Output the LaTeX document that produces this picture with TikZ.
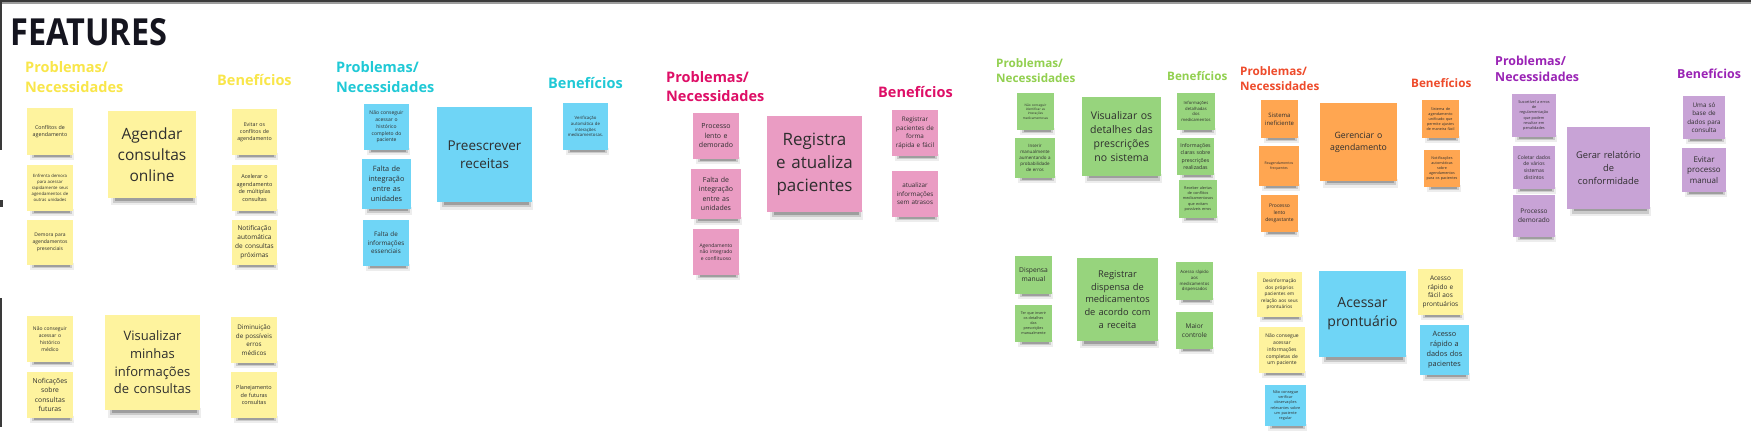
\documentclass[tikz,border=0pt]{standalone}
\usepackage{fontspec}
\setmainfont{Open Sans}
\definecolor{ny}{HTML}{FEF39E}
\definecolor{nb}{HTML}{6FD5F6}
\definecolor{np}{HTML}{EA9CC3}
\definecolor{ng}{HTML}{97D47D}
\definecolor{no}{HTML}{FFA651}
\definecolor{nv}{HTML}{C8A3D6}
\definecolor{hy}{HTML}{F9E64A}
\definecolor{hc}{HTML}{20C9D6}
\definecolor{hp}{HTML}{DE0F67}
\definecolor{hg}{HTML}{92D050}
\definecolor{ho}{HTML}{EE4B2B}
\definecolor{hv}{HTML}{9A23B5}
\definecolor{notetext}{HTML}{2E2E2E}
\definecolor{titlecol}{HTML}{15151F}
\definecolor{bordercol}{HTML}{3A3A3A}
\tikzset{
  stickybox/.style={inner sep=0pt, outer sep=0pt, align=center, text=notetext},
  hdr/.style={inner sep=0pt, anchor=north west, align=left},
  hdrb/.style={inner sep=0pt, anchor=base west},
}
\newcommand\hf[2]{\fontsize{#1pt}{#2pt}\selectfont\bfseries}
\newcommand\sticky[8]{%
  \pgfmathsetmacro\stkshd{3+(#5-#3)*0.05}%
  \pgfmathsetlengthmacro\stkw{#4-#2}%
  \pgfmathsetlengthmacro\stkh{#5-#3}%
  \pgfmathsetlengthmacro\stktw{#4-#2-1}%
  \pgfmathsetlengthmacro\stkbl{#7*1.36}%
  \fill[black,opacity=.07] (#2+3,#5-2) rectangle (#4+1,#5+\stkshd);
  \fill[black,opacity=.14] (#2+5,#5-1) rectangle (#4-1,#5+0.65*\stkshd);
  \fill[black,opacity=.22] (#2+7,#5) rectangle (#4-3,#5+0.35*\stkshd);
  \node[stickybox, fill=#6, minimum width=\stkw, minimum height=\stkh, text width=\stktw,
        font={\fontsize{#7pt}{\stkbl}\selectfont}] (#1) at ({(#2+#4)/2},{(#3+#5)/2}) {#8};
}
\begin{document}
\begin{tikzpicture}[x=1pt,y=-1pt]
\useasboundingbox[fill=white] (0,0) rectangle (1751,445);
% frame fragments
\fill[bordercol] (0,0) rectangle (1751,2);
\fill[bordercol!50] (0,2) rectangle (1751,3.5);
\fill[bordercol] (0,0) rectangle (1.5,150);
\fill[bordercol] (0,200) rectangle (2.5,207);
\fill[bordercol] (0,298) rectangle (1.5,427);
% title
\node[hdrb, text=titlecol] (title) at (10,45) {\resizebox{157pt}{27pt}{\bfseries FEATURES}};
% headers
\node[hdr, text=hy, font=\hf{14.5}{20}] (hy1) at (25,61) {Problemas/\\Necessidades};
\node[hdrb, text=hy, font=\hf{14.5}{20}] (hy2) at (217,85) {Benefícios};
\node[hdr, text=hc, font=\hf{14.5}{20}] (hc1) at (336,61) {Problemas/\\Necessidades};
\node[hdrb, text=hc, font=\hf{14.5}{20}] (hc2) at (548,88) {Benefícios};
\node[hdr, text=hp, font=\hf{14.5}{19.5}] (hp1) at (666,71) {Problemas/\\Necessidades};
\node[hdrb, text=hp, font=\hf{14.5}{20}] (hp2) at (878,97) {Benefícios};
\node[hdr, text=hg, font=\hf{11.7}{15.5}] (hg1) at (996,58) {Problemas/\\Necessidades};
\node[hdrb, text=hg, font=\hf{11.7}{15.5}] (hg2) at (1167,80) {Benefícios};
\node[hdr, text=ho, font=\hf{11.7}{15.5}] (ho1) at (1240,66) {Problemas/\\Necessidades};
\node[hdrb, text=ho, font=\hf{11.7}{15.5}] (ho2) at (1411,87) {Benefícios};
\node[hdr, text=hv, font=\hf{12.4}{16}] (hv1) at (1495,56) {Problemas/\\Necessidades};
\node[hdrb, text=hv, font=\hf{12.4}{16}] (hv2) at (1677,78) {Benefícios};
% group 1 (yellow)
\sticky{n1}{27}{108}{73}{155}{ny}{5.3}{Conflitos de\\agendamento}
\sticky{n2}{27}{165}{73}{211}{ny}{4.3}{Enfrenta demora\\para acessar\\rapidamente seus\\agendamentos de\\outras unidades}
\sticky{n3}{27}{220}{73}{265}{ny}{5.0}{Demora para\\agendamentos\\presenciais}
\sticky{m1}{108}{111}{196}{198}{ny}{15.5}{Agendar\\consultas\\online}
\sticky{b1}{232}{109}{277}{155}{ny}{5.3}{Evitar os\\conflitos de\\agendamento}
\sticky{b2}{232}{165}{277}{211}{ny}{5.5}{Acelerar o\\agendamento\\de múltiplas\\consultas}
\sticky{b3}{232}{220}{277}{265}{ny}{6.5}{Notificação\\automática\\de consultas\\próximas}
\sticky{n4}{27}{316}{73}{362}{ny}{5.0}{Não conseguir\\acessar o\\histórico\\médico}
\sticky{n5}{27}{372}{73}{418}{ny}{6.8}{Noficações\\sobre\\consultas\\futuras}
\sticky{m2}{105}{315}{200}{410}{ny}{13}{Visualizar\\minhas\\informações\\de consultas}
\sticky{b4}{231}{317}{277}{363}{ny}{6.3}{Diminuição\\de possíveis\\erros\\médicos}
\sticky{b5}{231}{372}{277}{418}{ny}{5.5}{Planejamento\\de futuras\\consultas}
% group 2 (blue)
\sticky{n6}{364}{104}{409}{150}{nb}{5.0}{Não conseguir\\acessar o\\histórico\\completo do\\paciente}
\sticky{n7}{362}{159}{411}{209}{nb}{7.3}{Falta de\\integração\\entre as\\unidades}
\sticky{n8}{363}{220}{409}{266}{nb}{6.3}{Falta de\\informações\\essenciais}
\sticky{m3}{437}{107}{532}{202}{nb}{13.5}{Preescrever\\receitas}
\sticky{b6}{563}{103}{608}{150}{nb}{4.3}{Verificação\\automática de\\interações\\medicamentosas.}
% group 3 (pink)
\sticky{n9}{693}{113}{739}{159}{np}{7}{Processo\\lento e\\demorado}
\sticky{n10}{691}{169}{741}{219}{np}{7}{Falta de\\integração\\entre as\\unidades}
\sticky{n11}{693}{229}{739}{275}{np}{5}{Agendamento\\não integrado\\e conflituoso}
\sticky{m4}{767}{116}{862}{212}{np}{17}{Registra\\e atualiza\\pacientes}
\sticky{b7}{892}{110}{938}{156}{np}{6.3}{Registrar\\pacientes de\\forma\\rápida e fácil}
\sticky{b8}{892}{171}{938}{217}{np}{6.3}{atualizar\\informações\\sem atrasos}
% group 4 (green)
\sticky{n12}{1017}{93}{1054}{130}{ng}{3.2}{Não conseguir\\identificar as\\interações\\medicamentosas}
\sticky{n13}{1015}{138}{1055}{178}{ng}{4.5}{Inserir\\manualmente\\aumentando a\\probabilidade\\de erros}
\sticky{m5}{1082}{97}{1161}{176}{ng}{10.5}{Visualizar os\\detalhes das\\prescrições\\no sistema}
\sticky{b9}{1177}{93}{1215}{130}{ng}{4.2}{Informações\\detalhadas\\dos\\medicamentos}
\sticky{b10}{1177}{138}{1214}{175}{ng}{5.2}{Informações\\claras sobre\\prescrições\\realizadas}
\sticky{b11}{1179}{180}{1217}{218}{ng}{3.8}{Receber alertas\\de conflitos\\medicamentosos\\que evitam\\possíveis erros}
\sticky{n14}{1015}{256}{1052}{294}{ng}{6.7}{Dispensa\\manual}
\sticky{n15}{1015}{305}{1052}{342}{ng}{3.7}{Ter que inserir\\os detalhes\\das\\prescrições\\manualmente}
\sticky{m6}{1077}{258}{1158}{341}{ng}{9.3}{Registrar\\dispensa de\\medicamentos\\de acordo com\\a receita}
\sticky{b12}{1176}{262}{1213}{300}{ng}{4.3}{Acesso rápido\\aos\\medicamentos\\dispensados}
\sticky{b13}{1176}{312}{1213}{349}{ng}{6.5}{Maior\\controle}
% group 5 (orange)
\sticky{n16}{1261}{100}{1298}{138}{no}{6}{Sistema\\ineficiente}
\sticky{n17}{1259}{146}{1299}{186}{no}{3.5}{Reagendamentos\\frequentes}
\sticky{n18}{1261}{195}{1298}{232}{no}{5}{Processo\\lento\\desgastante}
\sticky{m7}{1320}{103}{1397}{181}{no}{8.7}{Gerenciar o\\agendamento}
\sticky{b14}{1422}{100}{1459}{138}{no}{3.7}{Sistema de\\agendamento\\unificado que\\permite ajustes\\de maneira fácil}
\sticky{b15}{1424}{150}{1460}{187}{no}{3.7}{Notificações\\automáticas\\sobre\\agendamentos\\para os pacientes}
% prontuario group
\sticky{n19}{1257}{272}{1302}{317}{ny}{4.7}{Desinformação\\dos próprios\\pacientes em\\relação aos seus\\prontuários}
\sticky{n20}{1259}{327}{1305}{373}{ny}{5}{Não consegue\\acessar\\informações\\completas de\\um paciente}
\sticky{n21}{1265}{385}{1306}{426}{nb}{3.8}{Não consegue\\verificar\\observações\\relevantes sobre\\um paciente\\regular}
\sticky{m8}{1319}{271}{1406}{357}{nb}{14}{Acessar\\prontuário}
\sticky{b16}{1418}{269}{1463}{315}{ny}{6.5}{Acesso\\rápido e\\fácil aos\\prontuários}
\sticky{b17}{1420}{325}{1469}{375}{nb}{7.3}{Acesso\\rápido a\\dados dos\\pacientes}
% group 6 (purple)
\sticky{n22}{1512}{94}{1556}{137}{nv}{3.8}{Suscetível a erros\\de\\regulamentação\\que podem\\resultar em\\penalidades}
\sticky{n23}{1513}{146}{1555}{189}{nv}{5}{Coletar dados\\de vários\\sistemas\\distintos}
\sticky{n24}{1513}{195}{1555}{237}{nv}{6.5}{Processo\\demorado}
\sticky{m9}{1567}{127}{1650}{209}{nv}{9.3}{Gerar relatório\\de\\conformidade}
\sticky{b18}{1683}{96}{1725}{139}{nv}{6.3}{Uma só\\base de\\dados para\\consulta}
\sticky{b19}{1682}{148}{1726}{192}{nv}{8}{Evitar\\processo\\manual}
\end{tikzpicture}
\end{document}
